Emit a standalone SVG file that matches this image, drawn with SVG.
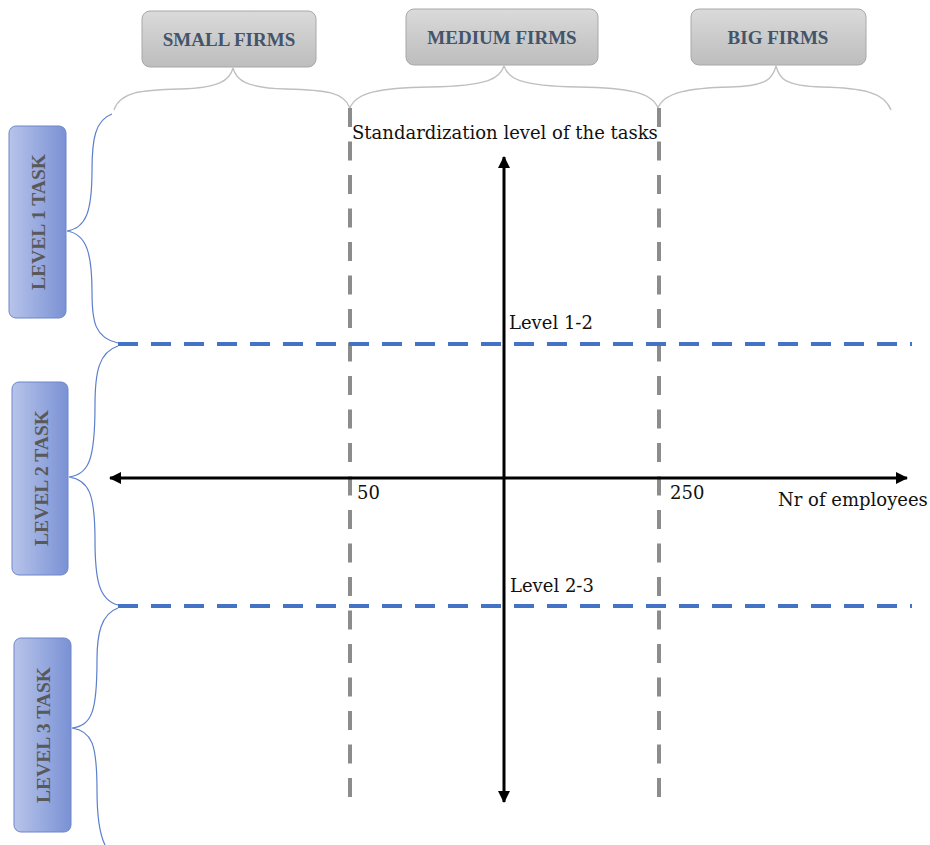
<svg xmlns="http://www.w3.org/2000/svg" width="930" height="845" viewBox="0 0 930 845">
  <style>
    .firm rect { fill: url(#gradFirm); stroke: #a8a8a8; stroke-width: 1; }
    .firm text { font-family: "Liberation Serif", serif; font-weight: bold; font-size: 19px; fill: #44546a; text-anchor: middle; }
    .level rect { fill: url(#gradLevel); stroke: #6f86cb; stroke-width: 1; }
    .level text { font-family: "Liberation Serif", serif; font-weight: bold; font-size: 19.5px; fill: #595959; text-anchor: middle; }
    .brace-top { fill: none; stroke: #bfbfbf; stroke-width: 1.3; }
    .brace-left { fill: none; stroke: #5b7fcb; stroke-width: 1.2; }
    .sep-v { stroke: #8c8c8c; stroke-width: 4; stroke-dasharray: 19 14.5; fill: none; }
    .sep-h { stroke: #4472c4; stroke-width: 4; stroke-dasharray: 20 13; fill: none; }
    .axis { stroke: #000; stroke-width: 3; fill: none; marker-start: url(#arrow); marker-end: url(#arrow); }
    .lbl { font-family: "DejaVu Serif", serif; font-size: 18px; fill: #111; }
  </style>
  <defs>
    <linearGradient id="gradFirm" x1="0" y1="0" x2="0" y2="1">
      <stop offset="0" stop-color="#dadada"/>
      <stop offset="1" stop-color="#bdbdbd"/>
    </linearGradient>
    <linearGradient id="gradLevel" x1="0" y1="0" x2="1" y2="0">
      <stop offset="0" stop-color="#b7c4ea"/>
      <stop offset="1" stop-color="#7a91d4"/>
    </linearGradient>
    <marker id="arrow" viewBox="0 0 12 12" refX="11" refY="6" markerWidth="13" markerHeight="12" markerUnits="userSpaceOnUse" orient="auto-start-reverse">
      <path d="M0,0 L12,6 L0,12 Z" fill="#000"/>
    </marker>
  </defs>

  <rect width="930" height="845" fill="#fff"/>

  <!-- firm size categories -->
  <g id="small-firms" class="firm">
    <rect x="142" y="11" width="174" height="56" rx="8"/>
    <text x="229" y="46">SMALL FIRMS</text>
  </g>
  <g id="medium-firms" class="firm">
    <rect x="406" y="9" width="192" height="56" rx="8"/>
    <text x="502" y="44">MEDIUM FIRMS</text>
  </g>
  <g id="big-firms" class="firm">
    <rect x="691" y="9" width="175" height="56" rx="8"/>
    <text x="778" y="44">BIG FIRMS</text>
  </g>

  <!-- task levels -->
  <g id="level-1" class="level">
    <rect x="9" y="126" width="57" height="192" rx="7"/>
    <text transform="translate(44.5,222) rotate(-90)">LEVEL 1 TASK</text>
  </g>
  <g id="level-2" class="level">
    <rect x="12" y="382" width="56" height="193" rx="7"/>
    <text transform="translate(47.5,478) rotate(-90)">LEVEL 2 TASK</text>
  </g>
  <g id="level-3" class="level">
    <rect x="14" y="638" width="57" height="194" rx="7"/>
    <text transform="translate(50,735) rotate(-90)">LEVEL 3 TASK</text>
  </g>

  <g id="connectors">
    <!-- braces under the firm boxes -->
    <path class="brace-top" d="M114,110 C120,92 140,90 180,89 C220,88 230,80 233,68 C236,80 246,88 286,89 C326,90 344,92 350,108"/>
    <path class="brace-top" d="M350,108 C356,92 380,88 430,87 C490,86 500,78 504,66 C508,78 518,86 578,87 C628,88 652,92 658,108"/>
    <path class="brace-top" d="M658,108 C664,92 690,88 730,87 C768,86 773,78 776,66 C779,78 784,86 822,87 C862,88 884,92 891,110"/>

    <!-- braces beside the level boxes -->
    <path class="brace-left" d="M112,114 C95,120 92,140 92,170 C92,212 86,228 67,231 C86,234 92,252 92,292 C92,322 95,338 118,343"/>
    <path class="brace-left" d="M118,346 C99,352 95,372 95,405 C95,460 89,474 69,477 C89,480 95,494 95,540 C95,580 99,600 118,605"/>
    <path class="brace-left" d="M118,608 C101,614 97,634 97,660 C97,712 92,725 72,728 C92,731 97,744 97,790 C97,820 100,835 105,845"/>

    <!-- firm size boundaries -->
    <line class="sep-v" x1="350" y1="108" x2="350" y2="798"/>
    <line class="sep-v" x1="659" y1="108" x2="659" y2="798"/>

    <!-- level boundaries -->
    <line class="sep-h" x1="118" y1="344" x2="912" y2="344"/>
    <line class="sep-h" x1="118" y1="606" x2="912" y2="606"/>

    <!-- axes -->
    <line class="axis" x1="110" y1="478" x2="907" y2="478"/>
    <line class="axis" x1="504" y1="157" x2="504" y2="802"/>
  </g>

  <!-- axis labels -->
  <text class="lbl" x="352" y="139">Standardization level of the tasks</text>
  <text class="lbl" x="509" y="329">Level 1-2</text>
  <text class="lbl" x="510" y="592">Level 2-3</text>
  <text class="lbl" x="357" y="499">50</text>
  <text class="lbl" x="670" y="499">250</text>
  <text class="lbl" x="778" y="506">Nr of employees</text>
</svg>
